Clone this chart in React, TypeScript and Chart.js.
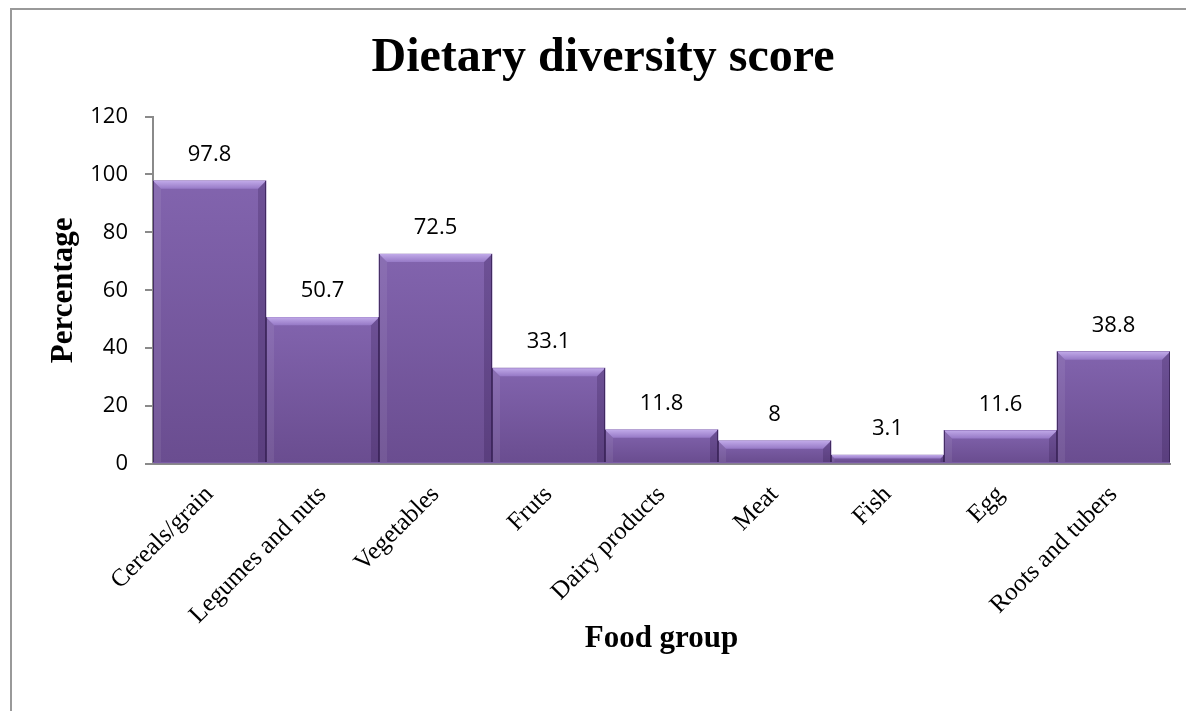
import React, { useEffect, useRef } from 'react';
import { Chart, registerables } from 'chart.js';

Chart.register(...registerables);

// Food groups and the share (%) of respondents who consumed each
const categories = [
  'Cereals/grain',
  'Legumes and nuts',
  'Vegetables',
  'Fruts',
  'Dairy products',
  'Meat',
  'Fish',
  'Egg',
  'Roots and tubers',
];
const percentages = [97.8, 50.7, 72.5, 33.1, 11.8, 8, 3.1, 11.6, 38.8];
const yTickValues = [0, 20, 40, 60, 80, 100, 120];

const chartTitle = 'Dietary diversity score';
const xTitle = 'Food group';
const yTitle = 'Percentage';

const SERIF = '"Liberation Serif", "Times New Roman", serif';
const SANS = '"Open Sans", "Noto Sans", sans-serif';
const AXIS_GREY = '#8a8a8a';

function fillPoly(ctx: CanvasRenderingContext2D, pts: number[][], style: string | CanvasGradient) {
  ctx.beginPath();
  ctx.moveTo(pts[0][0], pts[0][1]);
  for (let i = 1; i < pts.length; i++) ctx.lineTo(pts[i][0], pts[i][1]);
  ctx.closePath();
  ctx.fillStyle = style;
  ctx.fill();
}

// Paints each bar with a bevelled, shaded look and writes its value above it
const bevelBarsPlugin = {
  id: 'bevelBars',
  afterDatasetsDraw(chart: any) {
    const ctx: CanvasRenderingContext2D = chart.ctx;
    const meta = chart.getDatasetMeta(0);
    meta.data.forEach((bar: any, i: number) => {
      const { x, y, base, width } = bar.getProps(['x', 'y', 'base', 'width'], true);
      const left = x - width / 2;
      const right = x + width / 2;
      const top = Math.min(y, base);
      const bottom = Math.max(y, base) - 1;
      const h = bottom - top;
      const b = Math.min(8, h / 2);
      ctx.save();

      const body = ctx.createLinearGradient(0, top, 0, bottom);
      body.addColorStop(0, '#8264ae');
      body.addColorStop(1, '#6a4d90');
      ctx.fillStyle = body;
      ctx.fillRect(left, top, width, h);

      fillPoly(ctx, [[left, top], [left + b, top + b], [left + b, bottom], [left, bottom]], 'rgba(255,255,255,0.07)');
      fillPoly(ctx, [[right, top], [right - b, top + b], [right - b, bottom], [right, bottom]], 'rgba(35,15,65,0.22)');

      const topBevel = ctx.createLinearGradient(0, top, 0, top + b);
      topBevel.addColorStop(0, '#c0a9e8');
      topBevel.addColorStop(1, '#9679c6');
      fillPoly(ctx, [[left, top], [right, top], [right - b, top + b], [left + b, top + b]], topBevel);

      ctx.strokeStyle = 'rgba(55,32,85,0.8)';
      ctx.lineWidth = 1;
      ctx.beginPath();
      ctx.moveTo(left + 0.5, top);
      ctx.lineTo(left + 0.5, bottom);
      ctx.moveTo(right - 0.5, top);
      ctx.lineTo(right - 0.5, bottom);
      ctx.stroke();

      ctx.fillStyle = '#000';
      ctx.font = `22px ${SANS}`;
      ctx.textAlign = 'center';
      ctx.textBaseline = 'middle';
      ctx.fillText(String(percentages[i]), x, top - 26);
      ctx.restore();
    });
  },
};

export default function App() {
  const canvasRef = useRef<HTMLCanvasElement | null>(null);

  useEffect(() => {
    document.body.style.overflow = 'hidden';
    const canvas = canvasRef.current;
    if (!canvas) return;
    const chart = new Chart(canvas, {
      type: 'bar',
      data: {
        labels: categories,
        datasets: [
          {
            data: percentages,
            backgroundColor: '#7a5ba5',
            borderWidth: 0,
            categoryPercentage: 1,
            barPercentage: 1,
          },
        ],
      },
      options: {
        responsive: false,
        animation: false,
        devicePixelRatio: 1,
        layout: { padding: { left: 24, right: 24, top: 0, bottom: 0 } },
        plugins: {
          legend: { display: false },
          tooltip: { enabled: false },
          title: {
            display: true,
            text: chartTitle,
            color: '#000',
            font: { family: SERIF, size: 48, weight: 'bold' },
            padding: { top: 20, bottom: 29 },
          },
        },
        scales: {
          x: {
            grid: { display: false, drawTicks: false },
            border: { display: true, color: AXIS_GREY, width: 2 },
            ticks: {
              color: '#000',
              font: { family: SERIF, size: 25 },
              minRotation: 45,
              maxRotation: 45,
              autoSkip: false,
              padding: 16,
            },
            title: {
              display: true,
              text: xTitle,
              color: '#000',
              font: { family: SERIF, size: 31, weight: 'bold' },
              padding: { top: 0, bottom: 53 },
            },
            afterFit: (scale: any) => {
              scale.height = 247;
            },
          },
          y: {
            min: 0,
            max: 120,
            afterBuildTicks: (scale: any) => {
              scale.ticks = yTickValues.map((v) => ({ value: v }));
            },
            ticks: {
              color: '#000',
              font: { family: SANS, size: 22 },
              padding: 17,
            },
            grid: {
              drawOnChartArea: false,
              drawTicks: true,
              tickLength: 8,
              color: AXIS_GREY,
              lineWidth: 2,
            },
            border: { display: true, color: AXIS_GREY, width: 2 },
            title: {
              display: true,
              text: yTitle,
              color: '#000',
              font: { family: SERIF, size: 31, weight: 'bold' },
              padding: { top: 9, bottom: 0 },
            },
            afterFit: (scale: any) => {
              scale.width = 117;
            },
          },
        },
      },
      plugins: [bevelBarsPlugin],
    });
    return () => chart.destroy();
  }, []);

  return (
    <div
      style={{
        marginLeft: 2,
        width: 1182,
        height: 701,
        borderLeft: '2px solid #999',
        borderTop: '2px solid #999',
        overflow: 'hidden',
      }}
    >
      <canvas ref={canvasRef} width={1182} height={701} style={{ display: 'block' }} />
    </div>
  );
}
